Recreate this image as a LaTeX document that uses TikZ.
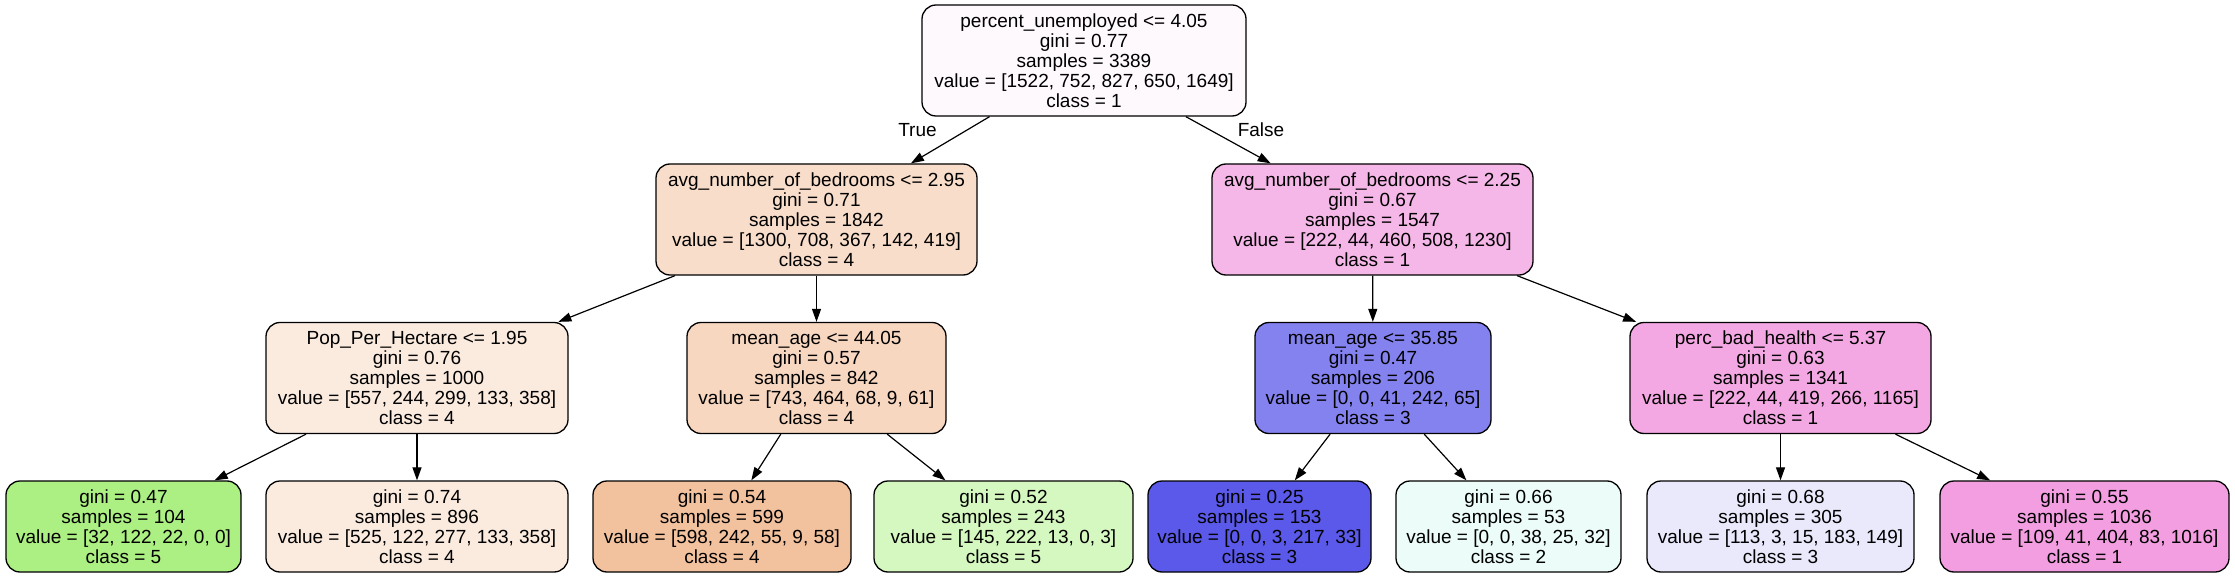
\documentclass[tikz,border=0pt]{standalone}
\usepackage{fontspec}
\setmainfont{Liberation Sans}
\usetikzlibrary{arrows.meta}
\definecolor{clsone}{HTML}{E539C0}
\definecolor{clstwo}{HTML}{39E5C5}
\definecolor{clsthree}{HTML}{3C39E5}
\definecolor{clsfour}{HTML}{E58139}
\definecolor{clsfive}{HTML}{7BE539}
\begin{document}
\begin{tikzpicture}[x=1pt,y=-1pt]
\tikzset{edge/.style = {-{Triangle[length=13pt,width=9pt]}, line width=1.2pt}}
\tikzset{split/.style = {shape=rectangle, rounded corners=14pt, draw, line width=1.3pt, align=center, inner sep=0pt, minimum height=111pt, font=\fontsize{19}{20}\selectfont}}
\tikzset{leaf/.style = {split, minimum height=91pt}}
\tikzset{answer/.style = {font=\fontsize{19}{20}\selectfont, inner sep=0pt}}
\useasboundingbox (0,0) rectangle (2235,577);
\node[split, fill=clsone!3!white, minimum width=324pt](n0) at (1084,60.5) {percent\_unemployed <= 4.05\\gini = 0.77\\samples = 3389\\value = [1522, 752, 827, 650, 1649]\\class = 1};
\node[split, fill=clsfour!27!white, minimum width=321pt](n1) at (816.5,219.5) {avg\_number\_of\_bedrooms <= 2.95\\gini = 0.71\\samples = 1842\\value = [1300, 708, 367, 142, 419]\\class = 4};
\node[split, fill=clsone!37!white, minimum width=321pt](n8) at (1372.5,219.5) {avg\_number\_of\_bedrooms <= 2.25\\gini = 0.67\\samples = 1547\\value = [222, 44, 460, 508, 1230]\\class = 1};
\node[split, fill=clsfour!16!white, minimum width=302pt](n2) at (417,378) {Pop\_Per\_Hectare <= 1.95\\gini = 0.76\\samples = 1000\\value = [557, 244, 299, 133, 358]\\class = 4};
\node[split, fill=clsfour!32!white, minimum width=259pt](n5) at (816.5,378) {mean\_age <= 44.05\\gini = 0.57\\samples = 842\\value = [743, 464, 68, 9, 61]\\class = 4};
\node[split, fill=clsthree!63!white, minimum width=236pt](n9) at (1373,378) {mean\_age <= 35.85\\gini = 0.47\\samples = 206\\value = [0, 0, 41, 242, 65]\\class = 3};
\node[split, fill=clsone!44!white, minimum width=301pt](n12) at (1780.5,378) {perc\_bad\_health <= 5.37\\gini = 0.63\\samples = 1341\\value = [222, 44, 419, 266, 1165]\\class = 1};
\node[leaf, fill=clsfive!63!white, minimum width=235pt](n3) at (123.5,526.5) {gini = 0.47\\samples = 104\\value = [32, 122, 22, 0, 0]\\class = 5};
\node[leaf, fill=clsfour!16!white, minimum width=302pt](n4) at (417,526.5) {gini = 0.74\\samples = 896\\value = [525, 122, 277, 133, 358]\\class = 4};
\node[leaf, fill=clsfour!49!white, minimum width=258pt](n6) at (722,526.5) {gini = 0.54\\samples = 599\\value = [598, 242, 55, 9, 58]\\class = 4};
\node[leaf, fill=clsfive!32!white, minimum width=259pt](n7) at (1003.5,526.5) {gini = 0.52\\samples = 243\\value = [145, 222, 13, 0, 3]\\class = 5};
\node[leaf, fill=clsthree!84!white, minimum width=223pt](n10) at (1259.5,526.5) {gini = 0.25\\samples = 153\\value = [0, 0, 3, 217, 33]\\class = 3};
\node[leaf, fill=clstwo!10!white, minimum width=225pt](n11) at (1508.5,526.5) {gini = 0.66\\samples = 53\\value = [0, 0, 38, 25, 32]\\class = 2};
\node[leaf, fill=clsthree!11!white, minimum width=267pt](n13) at (1780.5,526.5) {gini = 0.68\\samples = 305\\value = [113, 3, 15, 183, 149]\\class = 3};
\node[leaf, fill=clsone!49!white, minimum width=289pt](n14) at (2084.5,526.5) {gini = 0.55\\samples = 1036\\value = [109, 41, 404, 83, 1016]\\class = 1};
\node[answer](t) at (917.5,130) {True};
\node[answer](f) at (1261,130) {False};
\draw[edge] (n0) to (n1);
\draw[edge] (n0) to (n8);
\draw[edge] (n1) to (n2);
\draw[edge] (n1) to (n5);
\draw[edge] (n2) to (n3);
\draw[edge] (n2) to (n4);
\draw[edge] (n5) to (n6);
\draw[edge] (n5) to (n7);
\draw[edge] (n8) to (n9);
\draw[edge] (n8) to (n12);
\draw[edge] (n9) to (n10);
\draw[edge] (n9) to (n11);
\draw[edge] (n12) to (n13);
\draw[edge] (n12) to (n14);
\end{tikzpicture}
\end{document}
